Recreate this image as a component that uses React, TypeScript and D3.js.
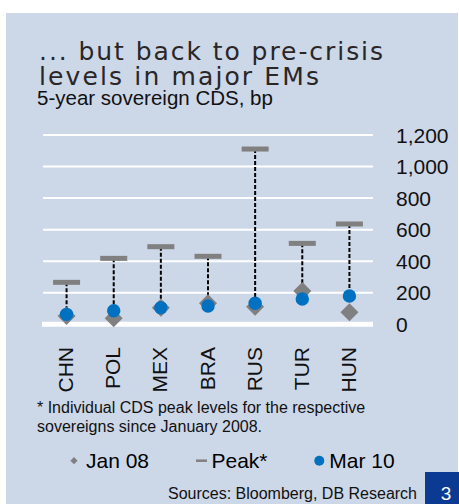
import React from "react";
import * as d3 from "d3";

const categories = ["CHN", "POL", "MEX", "BRA", "RUS", "TUR", "HUN"];
const jan08 = [53, 38, 105, 133, 112, 211, 76];
const peak = [266, 418, 492, 431, 1111, 513, 636];
const mar10 = [63, 86, 105, 116, 133, 160, 179];
const yTicks = [0, 200, 400, 600, 800, 1000, 1200];
const titleLines = ["... but back to pre-crisis", "levels in major EMs"];
const subtitle = "5-year sovereign CDS, bp";
const footnoteLines = [
  "* Individual CDS peak levels for the respective",
  "sovereigns since January 2008.",
];
const legendLabels = ["Jan 08", "Peak*", "Mar 10"];
const sourceText = "Sources: Bloomberg, DB Research";
const pageNumber = "3";

const W = 459;
const H = 504;
const FONT = "'Liberation Sans', Arial, Helvetica, sans-serif";
const TITLE_FONT = "'DejaVu Sans', 'Liberation Sans', sans-serif";
const GRAY = "#808080";
const BLUE = "#0070C0";
const PANEL = "#CCD7E8";

export default function App() {
  const x = d3.scaleBand<string>().domain(categories).range([43, 373]).padding(0);
  const y = d3.scaleLinear().domain([0, 1200]).range([324.3, 135]);
  const cx = (c: string) => (x(c) as number) + x.bandwidth() / 2;
  const diamond = d3.symbol().type(d3.symbolSquare).size(162)() as string;
  const legDiamond = d3.symbol().type(d3.symbolSquare).size(26)() as string;

  return (
    <svg
      width={W}
      height={H}
      style={{ position: "absolute", left: 0, top: 0 }}
      fontFamily={FONT}
    >
      <rect x={0} y={0} width={W} height={H} fill="#ffffff" />
      <rect x={6} y={13} width={452} height={H - 13} fill={PANEL} />

      {/* Title */}
      <text
        x={39}
        y={60}
        fontSize={25}
        fontFamily={TITLE_FONT}
        fill="#2a2627"
        textLength={344}
        lengthAdjust="spacing"
      >
        {titleLines[0]}
      </text>
      <text
        x={39}
        y={84.5}
        fontSize={25}
        fontFamily={TITLE_FONT}
        fill="#2a2627"
        textLength={280}
        lengthAdjust="spacing"
      >
        {titleLines[1]}
      </text>
      <text x={37} y={105} fontSize={20.5} fill="#111">
        {subtitle}
      </text>

      {/* Gridlines */}
      {yTicks.map((t) => (
        <line
          key={"g" + t}
          x1={t === 0 ? 42 : 43}
          x2={373}
          y1={y(t)}
          y2={y(t)}
          stroke="#ffffff"
          strokeWidth={t === 0 ? 5 : 2}
        />
      ))}
      {yTicks.map((t) => (
        <text key={"t" + t} x={396} y={y(t) + 7.5} fontSize={21} fill="#111">
          {d3.format(",")(t)}
        </text>
      ))}

      {/* Dashed lines from peak to Mar 10 */}
      {categories.map((c, i) => (
        <line
          key={"l" + c}
          x1={cx(c)}
          x2={cx(c)}
          y1={y(peak[i])}
          y2={y(mar10[i])}
          stroke="#000"
          strokeWidth={2}
          strokeDasharray="4 2"
        />
      ))}
      {/* Peak bars */}
      {categories.map((c, i) => (
        <rect
          key={"p" + c}
          x={cx(c) - 13.5}
          y={y(peak[i]) - 2.5}
          width={27}
          height={5}
          fill={GRAY}
        />
      ))}
      {/* Jan 08 diamonds */}
      {categories.map((c, i) => (
        <path
          key={"d" + c}
          d={diamond}
          transform={`translate(${cx(c)},${y(jan08[i])}) rotate(45)`}
          fill={GRAY}
        />
      ))}
      {/* Mar 10 circles */}
      {categories.map((c, i) => (
        <circle key={"c" + c} cx={cx(c)} cy={y(mar10[i])} r={6.7} fill={BLUE} />
      ))}

      {/* Category labels */}
      {categories.map((c) => (
        <text
          key={"x" + c}
          transform={`translate(${cx(c) + 6.5},347) rotate(-90)`}
          textAnchor="end"
          fontSize={21}
          fill="#111"
        >
          {c}
        </text>
      ))}

      {/* Footnote */}
      {footnoteLines.map((l, i) => (
        <text key={"f" + i} x={37} y={413.3 + i * 18.7} fontSize={16} fill="#111">
          {l}
        </text>
      ))}

      {/* Legend */}
      <path d={legDiamond} transform="translate(74,460.7) rotate(45)" fill={GRAY} />
      <text x={86} y={467.5} fontSize={21} fill="#000">
        {legendLabels[0]}
      </text>
      <line x1={196} x2={207} y1={460.7} y2={460.7} stroke={GRAY} strokeWidth={2.5} />
      <text x={211.5} y={467.5} fontSize={21} fill="#000">
        {legendLabels[1]}
      </text>
      <circle cx={319.3} cy={460.7} r={5} fill={BLUE} />
      <text x={329.3} y={467.5} fontSize={21} fill="#000">
        {legendLabels[2]}
      </text>

      {/* Sources */}
      <text x={417} y={499} fontSize={16} textAnchor="end" fill="#111">
        {sourceText}
      </text>

      {/* Page number */}
      <rect x={425} y={472} width={34} height={32} fill="#0B3A93" />
      <text x={446} y={500} fontSize={19} textAnchor="middle" fill="#ffffff">
        {pageNumber}
      </text>
    </svg>
  );
}
